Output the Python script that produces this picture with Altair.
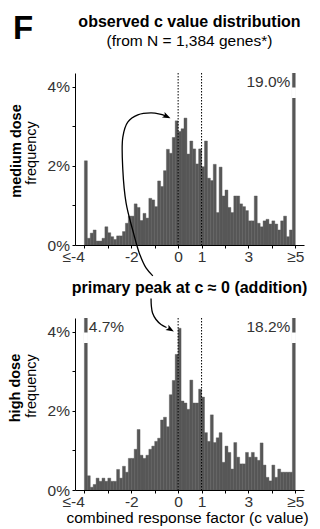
import altair as alt
import pandas as pd

# ------------------------------------------------------------------ data
BIN_START = -4.0      # left edge of the first ("<= -4") bin
BIN_WIDTH = 0.125     # 72 bins from -4 to 5, last one is ">= 5"

medium_dose_pct = [
    2.13, 0.17, 0.30, 0.38, 0.10, 0.10, 0.17, 0.46,
    0.31, 0.21, 0.14, 0.23, 0.23, 0.34, 0.55, 0.73,
    0.73, 1.04, 0.95, 0.62, 0.80, 0.68, 1.18, 1.14,
    0.97, 1.62, 1.48, 1.88, 2.42, 2.32, 2.72, 3.14,
    2.87, 2.94, 3.21, 2.30, 2.63, 2.43, 2.05, 2.43,
    1.98, 2.63, 1.69, 1.63, 2.04, 0.82, 1.97, 1.24,
    1.39, 0.95, 0.82, 1.24, 1.24, 1.04, 0.97, 0.87,
    0.61, 0.61, 1.24, 0.55, 0.46, 0.61, 0.65, 0.53,
    0.61, 0.53, 0.38, 0.61, 0.73, 0.21, 0.38, 19.0,
]

high_dose_pct = [
    4.70, 0.36, 0.07, 0.14, 0.30, 0.22, 0.30, 0.22,
    0.30, 0.22, 0.22, 0.52, 0.30, 0.60, 0.45, 0.80,
    0.80, 1.03, 1.53, 0.88, 0.80, 0.88, 1.03, 1.11,
    1.23, 1.31, 1.77, 1.84, 1.60, 2.41, 2.77, 3.43,
    4.09, 2.25, 2.20, 2.04, 2.78, 2.20, 2.20, 2.55,
    2.35, 1.45, 1.23, 1.90, 1.20, 1.32, 1.45, 0.70,
    1.11, 0.95, 0.53, 1.20, 0.83, 0.66, 0.66, 0.95,
    0.83, 0.95, 0.83, 0.75, 1.19, 0.63, 0.32, 0.23,
    0.63, 0.32, 0.53, 0.45, 0.45, 0.45, 0.45, 18.2,
]

x_ticks = [-4, -3, -2, -1, 0, 1, 2, 3, 4, 5]
x_tick_labels = ["≤-4", "", "-2", "", "0", "1", "", "3", "", "≥5"]
y_ticks = [0, 1, 2, 3, 4]
y_tick_labels = ["0%", "", "2%", "", "4%"]
guide_lines = [0, 1]   # dotted reference lines at c = 0 and c = 1

# annotation arrows (c value, frequency %) - drawn through the chart scales
top_arrow_c = [-1.08, -1.37, -1.66, -1.94, -2.22, -2.36, -2.36, -2.15, -1.72, -1.16, -0.78, -0.56]
top_arrow_v = [-0.78, -0.58, -0.20, 0.38, 1.06, 1.90, 2.73, 3.11, 3.29, 3.34, 3.31, 3.27]
top_head = (-0.48, 3.25, 25)
bot_arrow_c = [-1.156, -1.143, -1.092, -0.943, -0.730, -0.495]
bot_arrow_v = [4.845, 4.654, 4.476, 4.312, 4.186, 4.110]
bot_head = (-0.33, 4.06, 30)

TITLE = "observed c value distribution"
SUBTITLE = "(from N = 1,384 genes*)"
PANEL_LETTER = "F"
PEAK_NOTE = "primary peak at c ≈ 0 (addition)"
X_TITLE = "combined response factor (c value)"
TOP_ROW = "medium dose"
BOTTOM_ROW = "high dose"
Y_TITLE = "frequency"

# ------------------------------------------------------------------ style
FONT = "Liberation Sans"
BAR_COLOR = "#575757"
LABEL_COLOR = "#333333"
X_DOMAIN = [-4.401, 5.371]
Y_MAX = 4.35
BREAK_LO, BREAK_HI = 3.73, 3.97
W, H = 229, 172
ARROW_PATH = "M -1 -0.75 L 1 0 L -1 0.75 L -0.55 0 Z"


def js_list(items):
    return "[" + ",".join("'" + s + "'" for s in items) + "]"


def text_layer(txt, x, y, size, weight="normal", angle=0, align="center",
               baseline="alphabetic", color="black"):
    return alt.Chart(pd.DataFrame({"t": [txt]})).mark_text(
        font=FONT, fontSize=size, fontWeight=weight, angle=angle,
        align=align, baseline=baseline, color=color,
    ).encode(x=alt.value(x), y=alt.value(y), text="t:N")


def anchor_layer(x, y):
    # invisible layout anchor: pins the chart's top-left bound
    return alt.Chart(pd.DataFrame({"a": [0]})).mark_rule(opacity=0).encode(
        x=alt.value(x), x2=alt.value(x + 4), y=alt.value(y)
    )


def panel(vals, arrow_c, arrow_v, head, texts, x_title=None):
    n = len(vals)
    bins = pd.DataFrame({
        "lo": [BIN_START + i * BIN_WIDTH for i in range(n)],
        "hi": [BIN_START + (i + 1) * BIN_WIDTH for i in range(n)],
        "v": vals,
    })
    xs = alt.Scale(domain=X_DOMAIN, nice=False, zero=False)
    ys = alt.Scale(domain=[0, Y_MAX], nice=False, zero=False)

    axis_kw = dict(
        values=x_ticks,
        labelExpr=f"{js_list(x_tick_labels)}[datum.value + 4]",
        labelAlign={"condition": {"test": "datum.value == -4", "value": "right"}, "value": "center"},
        tickSize=3, labelPadding=1, grid=False, labelOverlap=False, labelFlush=False,
    )
    if x_title:
        axis_kw.update(title=x_title, titleX=112, titleY=32.5, titleBaseline="alphabetic",
                       titleAlign="center", titleFontSize=15.5, titleFontWeight="normal",
                       titleColor="black", titleFont=FONT)
    else:
        axis_kw.update(title=None)
    x_axis = alt.Axis(**axis_kw)
    y_axis = alt.Axis(
        values=y_ticks,
        labelExpr=f"{js_list(y_tick_labels)}[datum.value]",
        tickSize=3, labelPadding=2.5, grid=False, labelOverlap=False, labelFlush=False,
        title=None,
    )

    def X(field):
        return alt.X(field, scale=xs, axis=x_axis)

    def Y(field):
        return alt.Y(field, scale=ys, axis=y_axis)

    bars = alt.Chart(bins).mark_bar(
        color=BAR_COLOR, stroke=BAR_COLOR, strokeWidth=0.4, clip=True
    ).encode(x=X("lo:Q"), x2="hi:Q", y=Y("v:Q"), y2=alt.datum(0))

    over = alt.Chart(bins).transform_filter(f"datum.v > {Y_MAX}").transform_calculate(
        label="format(datum.v, '.1f') + '%'"
    )
    gap = over.mark_bar(color="white", stroke="white", strokeWidth=1.2).encode(
        x=X("lo:Q"), x2="hi:Q",
        y=alt.YDatum(BREAK_LO, scale=ys, axis=y_axis), y2=alt.datum(BREAK_HI),
    )
    lab_left = over.transform_filter("datum.lo < 0").mark_text(
        font=FONT, fontSize=15.5, align="left", baseline="alphabetic", dx=1.5, color=LABEL_COLOR
    ).encode(x=X("hi:Q"), y=alt.value(13.5), text="label:N")
    lab_right = over.transform_filter("datum.lo > 0").mark_text(
        font=FONT, fontSize=15.5, align="right", baseline="alphabetic", dx=-2, color=LABEL_COLOR
    ).encode(x=X("lo:Q"), y=alt.value(13.5), text="label:N")

    rules = alt.Chart(pd.DataFrame({"c": guide_lines})).mark_rule(
        color="black", strokeDash=[1.5, 1.5], strokeWidth=1
    ).encode(x=X("c:Q"))

    arrow = alt.Chart(pd.DataFrame({"c": arrow_c, "v": arrow_v, "k": list(range(len(arrow_c)))})).mark_line(
        interpolate="catmull-rom", color="black", strokeWidth=1.3
    ).encode(x=X("c:Q"), y=Y("v:Q"), order="k:Q")
    head_df = pd.DataFrame({"c": [head[0]], "v": [head[1]]})
    arrow_head = alt.Chart(head_df).mark_point(
        shape=ARROW_PATH, filled=True, size=64, color="black", opacity=1,
        angle=head[2], strokeWidth=0,
    ).encode(x=X("c:Q"), y=Y("v:Q"))

    return alt.layer(bars, gap, lab_left, lab_right, rules, arrow, arrow_head, *texts).properties(
        width=W, height=H
    )


top = panel(
    medium_dose_pct, top_arrow_c, top_arrow_v, top_head,
    [
        anchor_layer(-66, -65),
        text_layer(PANEL_LETTER, -62, -34, 33, weight="bold", align="left"),
        text_layer(TITLE, 114.5, -46, 16, weight="bold"),
        text_layer(SUBTITLE, 114.5, -27, 15.5),
        text_layer(TOP_ROW, -54, 78, 14.5, weight="bold", angle=270),
        text_layer(Y_TITLE, -39, 80, 14.5, angle=270),
    ],
)

bottom = panel(
    high_dose_pct, bot_arrow_c, bot_arrow_v, bot_head,
    [
        text_layer(PEAK_NOTE, 114.5, -25.5, 16, weight="bold"),
        text_layer(BOTTOM_ROW, -55, 70, 14.5, weight="bold", angle=270),
        text_layer(Y_TITLE, -39, 68, 14.5, angle=270),
    ],
    x_title=X_TITLE,
)

chart = alt.vconcat(top, bottom, spacing=73, bounds="flush").properties(
    padding=0
).configure_view(stroke=None).configure_axis(
    domainColor="black", domainWidth=1, tickColor="black", tickWidth=1,
    labelFont=FONT, labelFontSize=15.5, labelColor=LABEL_COLOR,
)

chart.save("out.html", embed_options={"renderer": "svg", "actions": False})
